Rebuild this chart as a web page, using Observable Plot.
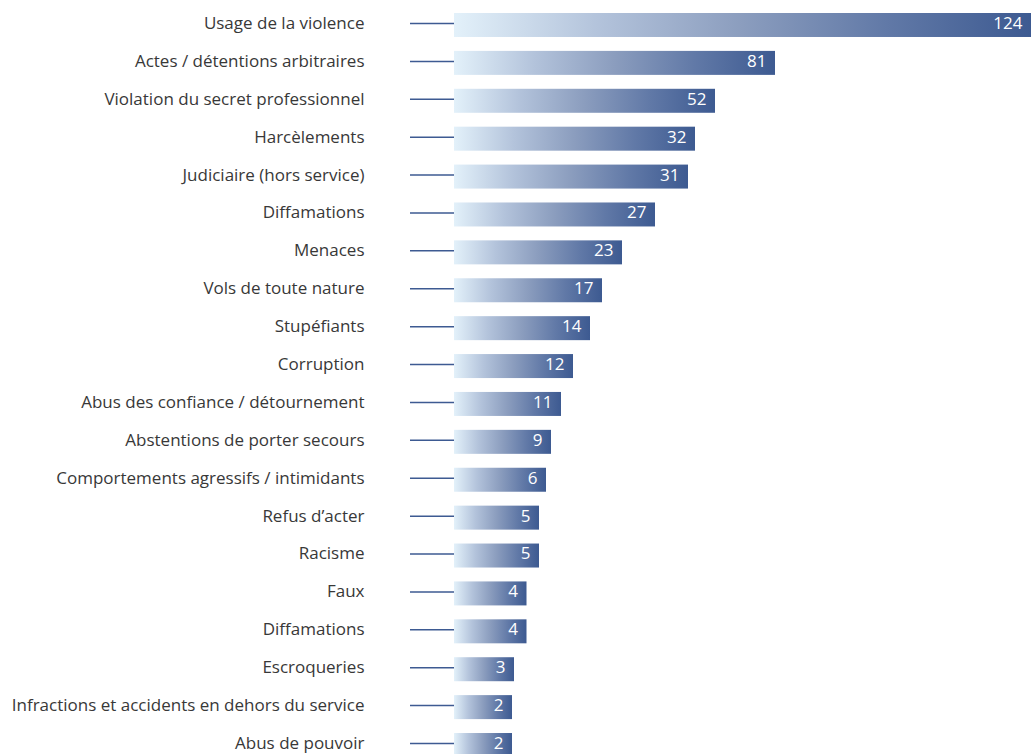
<!DOCTYPE html>
<html>
<head>
<meta charset="utf-8">
<script src="https://cdn.jsdelivr.net/npm/d3@7"></script>
<script src="https://cdn.jsdelivr.net/npm/@observablehq/plot@0.6"></script>
<style>
  html, body { margin: 0; padding: 0; background: #fff; }
  #chart { width: 1035px; height: 754px; overflow: hidden; }
</style>
</head>
<body>
<div id="chart"></div>
<script>
const categories = [
  "Usage de la violence",
  "Actes / détentions arbitraires",
  "Violation du secret professionnel",
  "Harcèlements",
  "Judiciaire (hors service)",
  "Diffamations",
  "Menaces",
  "Vols de toute nature",
  "Stupéfiants",
  "Corruption",
  "Abus des confiance / détournement",
  "Abstentions de porter secours",
  "Comportements agressifs / intimidants",
  "Refus d’acter",
  "Racisme",
  "Faux",
  "Diffamations",
  "Escroqueries",
  "Infractions et accidents en dehors du service",
  "Abus de pouvoir"
];
const values = [124, 81, 52, 32, 31, 27, 23, 17, 14, 12, 11, 9, 6, 5, 5, 4, 4, 3, 2, 2];

const data = categories.map((c, i) => ({idx: i, category: c, value: values[i]}));

// The original's bar lengths are not proportional: approximate them with a piecewise scale
const xBreaks = [0, 2, 3, 5, 6, 9, 11, 12, 14, 17, 23, 31, 32, 52, 81, 124];
const xPixels = [454, 512, 514, 539, 546, 551, 561, 573, 590, 602, 622, 688, 695, 715, 775, 1031];

const chart = Plot.plot({
  width: 1035,
  height: 754,
  marginLeft: 454,
  marginRight: 0,
  marginTop: 0,
  marginBottom: 0,
  style: {fontFamily: "'Open Sans', 'Noto Sans', sans-serif", background: "#fff"},
  x: {type: "linear", domain: xBreaks, range: xPixels, axis: null},
  y: {type: "band", domain: d3.range(categories.length), range: [0, 770], round: false, paddingInner: 0.367, paddingOuter: 0.343, axis: null},
  marks: [
    Plot.axisY({
      tickSize: 44,
      tickPadding: 46,
      stroke: "#3d5a92",
      strokeWidth: 1.5,
      fill: "#383838",
      fontSize: 17,
      dy: -2,
      label: null,
      tickFormat: i => categories[i]
    }),
    Plot.barX(data, {x: "value", y: "idx", fill: "url(#barGrad)"}),
    Plot.text(data, {
      x: "value", y: "idx", text: d => String(d.value),
      textAnchor: "end", dx: -9, dy: -2, fill: "white", fontSize: 17
    })
  ]
});

const svg = d3.select(chart);
const defs = svg.insert("defs", ":first-child");
const grad = defs.append("linearGradient")
  .attr("id", "barGrad")
  .attr("x1", "0%").attr("x2", "100%").attr("y1", "0%").attr("y2", "0%");
[[0, "#e3f1fa"], [0.25, "#b3c3db"], [0.5, "#8b9dbe"], [0.75, "#6179a7"], [1, "#3d5a91"]]
  .forEach(([o, c]) => grad.append("stop").attr("offset", o).attr("stop-color", c));

document.getElementById("chart").appendChild(chart);
</script>
</body>
</html>
